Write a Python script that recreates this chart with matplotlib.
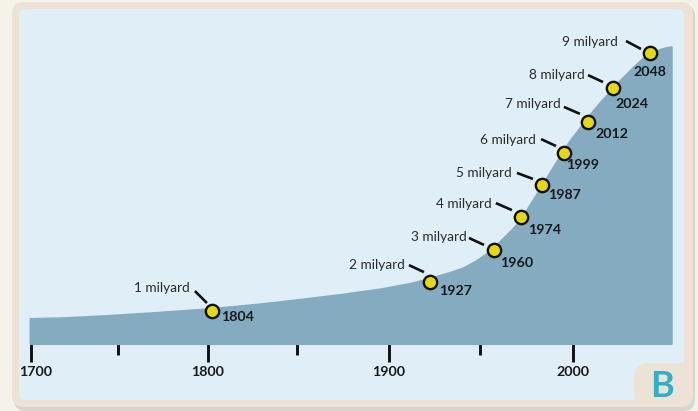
import numpy as np
import matplotlib
matplotlib.use('Agg')
import matplotlib.pyplot as plt
from matplotlib.patches import FancyBboxPatch
from matplotlib.transforms import ScaledTranslation, IdentityTransform

plt.rcParams['font.family'] = ['Lato', 'DejaVu Sans']

# Population curve, x in axis years, y in billions
curve_years = [1699.5, 1716.7, 1739.7, 1767.8, 1800, 1829.2, 1851.6, 1873.4, 1895.1, 1911.5,
               1922.5, 1933.5, 1940.7, 1947.3, 1953.8, 1958.1, 1962.4, 1967.2, 1971.5, 1975.8,
               1980.6, 1984.9, 1989.2, 1993.5, 1998.4, 2003.8, 2009.1, 2014.5, 2019.9, 2025.3,
               2032.3, 2038.7, 2045.2, 2049.5, 2052.8]
curve_values = [0.80, 0.82, 0.88, 0.975, 1.10, 1.25, 1.39, 1.54, 1.71, 1.88,
                2.04, 2.22, 2.36, 2.56, 2.81, 3.02, 3.27, 3.54, 3.82, 4.21,
                4.65, 5.05, 5.45, 5.85, 6.28, 6.68, 7.08, 7.45, 7.79, 8.13,
                8.53, 8.87, 9.05, 9.13, 9.16]

# Milestones: where each dot sits on the axis, and what it is labelled
dot_x = [1802.2, 1922.5, 1957.5, 1972, 1983.3, 1995.2, 2008, 2021.5, 2041.4]
dot_y = [1.03, 1.92, 2.91, 3.92, 4.91, 5.89, 6.85, 7.89, 8.97]
dot_years = ['1804', '1927', '1960', '1974', '1987', '1999', '2012', '2024', '2048']
dot_names = ['1 milyard', '2 milyard', '3 milyard', '4 milyard', '5 milyard',
             '6 milyard', '7 milyard', '8 milyard', '9 milyard']

major_ticks = [1700, 1800, 1900, 2000]
minor_ticks = [1750, 1850, 1950]

# The printed time axis is not quite even, so map years to pixels piecewise
scale_years = [1600, 1700, 1750, 1800, 1850, 1900, 1950, 2000, 2100]
scale_px = [-150, 31, 118, 208, 297, 389, 480, 573, 759]

# Label layout, pixel offsets from each dot (x right, y up)
name_off = [(-22, 23), (-25, 17), (-27, 13), (-29, 13), (-30, 12), (-28, 13), (-27, 18), (-28, 13), (-32, 11)]
year_off = [(26, -6), (26, -9), (23, -13), (24, -13), (23, -10), (19, -12), (24, -12), (19, -16), (0, -19)]
lead_from = [(-17, 20), (-21, 17), (-25, 12), (-25, 14), (-25, 12), (-23, 14), (-24, 15), (-25, 13), (-24, 12)]
lead_to = [(-5, 8), (-6, 10), (-10, 5), (-9, 7), (-9, 6), (-8, 7), (-8, 8), (-10, 6), (-9, 4)]

W, H = 698, 411
fig = plt.figure(figsize=(W / 100, H / 100), dpi=100, facecolor='#f5f2ea')

# Card behind the chart, drawn in pixel coordinates
bg = fig.add_axes([0, 0, 1, 1])
bg.set_xlim(0, W)
bg.set_ylim(H, 0)
bg.axis('off')


def card(x0, y0, x1, y1, r, color, z=1):
    bg.add_patch(FancyBboxPatch((x0 + r, y0 + r), x1 - x0 - 2 * r, y1 - y0 - 2 * r,
                                boxstyle=f'round,pad={r},rounding_size={r}',
                                fc=color, ec='none', zorder=z))


card(14, 5, 695, 411, 12, '#d6d5ce', 1)
card(12, 2, 693, 407, 12, '#ece3d6', 2)
card(19, 9, 684, 400, 7, '#e0eff7', 3)
card(634, 363, 693, 407, 15, '#ece3d6', 4)
bg.add_patch(plt.Rectangle((660, 395), 20, 10, fc='#ece3d6', ec='none', zorder=4))
bg.text(662, 386, 'B', color='#2fb0c9', fontsize=26, fontweight='bold',
        ha='center', va='center', zorder=6)

# Chart axes fill the figure, with scales set to land on the printed pixels
ax = fig.add_axes([0, 0, 1, 1], facecolor='none')


def to_px(v):
    return np.interp(v, scale_years, scale_px)


def to_year(v):
    return np.interp(v, scale_px, scale_years)


ax.set_xscale('function', functions=(to_px, to_year))
ax.set_xlim(to_year(0), to_year(W))
ax.set_ylim((344.5 - H) / 32.5, 344.5 / 32.5)

ax.fill_between(curve_years, 0.03, curve_values, fc='#85abc1', ec='#85abc1',
                lw=1.5, joinstyle='round', zorder=2)

for s in ax.spines.values():
    s.set_visible(False)
ax.spines['bottom'].set_position(('data', 0.03))
ax.yaxis.set_visible(False)
ax.set_xticks(major_ticks)
ax.set_xticks(minor_ticks, minor=True)
ax.tick_params(axis='x', which='major', length=13, width=2.1, color='#111111', pad=3.5,
               labelsize=10.3, labelcolor='#1a1a1a')
ax.tick_params(axis='x', which='minor', length=8, width=2.1, color='#111111')
ax.set_xticklabels([str(y) for y in major_ticks], fontweight='bold')
first = ax.get_xticklabels()[0]
first.set_transform(first.get_transform() + ScaledTranslation(5 / 100, 0, fig.dpi_scale_trans))

for i in range(len(dot_x)):
    xy = (dot_x[i], dot_y[i])
    # leader line, both ends given as pixel offsets from the dot
    base = ax.transData.transform(xy)
    ax.plot([base[0] + lead_from[i][0], base[0] + lead_to[i][0]],
            [base[1] + lead_from[i][1], base[1] + lead_to[i][1]],
            transform=IdentityTransform(), color='#111111',
            lw=1.9, solid_capstyle='butt', zorder=4)
    ax.annotate(dot_names[i], xy=xy, xytext=name_off[i], textcoords='offset pixels',
                ha='right', va='center', fontsize=9.8, color='#2a2a2a', zorder=5)
    ax.annotate(dot_years[i], xy=xy, xytext=year_off[i], textcoords='offset pixels',
                ha='center', va='center', fontsize=10.3, fontweight='bold', color='#1a1a1a', zorder=5)

ax.plot(dot_x, dot_y, 'o', ms=9.6, mfc='#e6d80f', mec='#111111', mew=1.7, zorder=6)

plt.savefig('out.png', dpi=100, facecolor=fig.get_facecolor())
